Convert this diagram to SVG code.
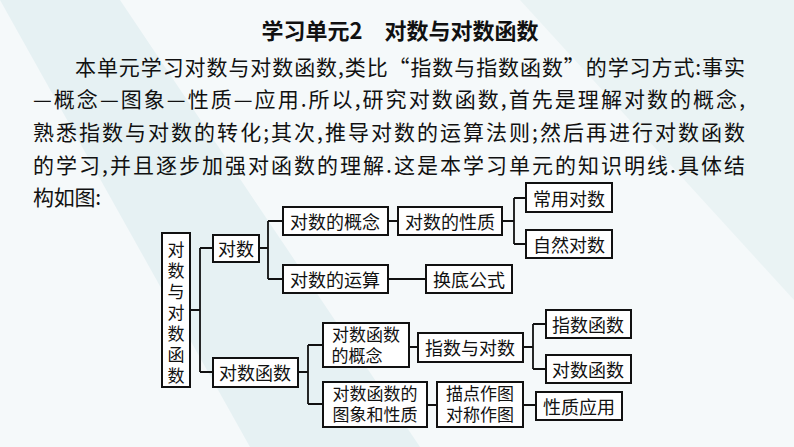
<svg xmlns="http://www.w3.org/2000/svg" width="794" height="447" viewBox="0 0 794 447">
<style>
text{font-family:"Noto Sans CJK SC","Liberation Serif",serif;fill:#111}
.p{font-size:21px}
.n{font-size:18px;text-anchor:middle;dominant-baseline:central}
.t{font-size:17px;text-anchor:middle}
.v{font-size:17px;text-anchor:middle}
rect{fill:#fff;stroke:#111;stroke-width:2}
.c{fill:none;stroke:#111;stroke-width:1.8}
</style>
<rect x="0" y="0" width="794" height="447" style="fill:#f5f9fa;stroke:none"/>
<polygon points="0,0 120,0 420,447 250,447" style="fill:#e6f1f3;stroke:none"/>
<polygon points="520,0 794,0 794,300" style="fill:#eaf3f4;stroke:none"/>
<text x="400" y="39" font-size="22" font-weight="bold" text-anchor="middle">学习单元2　对数与对数函数</text>
<text class="p" x="75" y="75" textLength="670" lengthAdjust="spacing">本单元学习对数与对数函数,类比“指数与指数函数”的学习方式:事实</text>
<text class="p" x="33" y="107" textLength="712" lengthAdjust="spacing">—概念—图象—性质—应用.所以,研究对数函数,首先是理解对数的概念,</text>
<text class="p" x="33" y="140" textLength="712" lengthAdjust="spacing">熟悉指数与对数的转化;其次,推导对数的运算法则;然后再进行对数函数</text>
<text class="p" x="33" y="173" textLength="712" lengthAdjust="spacing">的学习,并且逐步加强对函数的理解.这是本学习单元的知识明线.具体结</text>
<text class="p" x="33" y="205" textLength="68" lengthAdjust="spacing">构如图:</text>
<g id="connectors">
<path class="c" d="M190,310H200M200,248V372M200,248H213M200,372H213"/>
<path class="c" d="M259,248H268M268,221V279M268,221H283M268,279H283"/>
<path class="c" d="M388,221H398M502,221H514M514,198V244M514,198H526M514,244H526"/>
<path class="c" d="M388,279H426"/>
<path class="c" d="M298,372H308M308,345V404M308,345H323M308,404H323"/>
<path class="c" d="M409,347H418M523,347H533M533,324V369M533,324H546M533,369H546"/>
<path class="c" d="M427,405H437M523,405H536"/>
</g>
<g id="root"><rect x="162" y="233" width="28" height="154"/>
<text class="v" x="176" y="256">对</text><text class="v" x="176" y="277">数</text><text class="v" x="176" y="298">与</text><text class="v" x="176" y="319">对</text><text class="v" x="176" y="340">数</text><text class="v" x="176" y="361">函</text><text class="v" x="176" y="382">数</text></g>
<g id="n1"><rect x="213" y="235" width="46" height="27"/><text class="n" x="236" y="248">对数</text></g>
<g id="n2"><rect x="283" y="207" width="105" height="28"/><text class="n" x="335" y="221">对数的概念</text></g>
<g id="n3"><rect x="398" y="207" width="104" height="28"/><text class="n" x="450" y="221">对数的性质</text></g>
<g id="n4"><rect x="526" y="183" width="86" height="29"/><text class="n" x="569" y="198">常用对数</text></g>
<g id="n5"><rect x="526" y="230" width="86" height="28"/><text class="n" x="569" y="244">自然对数</text></g>
<g id="n6"><rect x="283" y="265" width="105" height="28"/><text class="n" x="335" y="279">对数的运算</text></g>
<g id="n7"><rect x="426" y="265" width="86" height="28"/><text class="n" x="469" y="279">换底公式</text></g>
<g id="n8"><rect x="213" y="358" width="85" height="29"/><text class="n" x="255" y="372">对数函数</text></g>
<g id="n9"><rect x="323" y="323" width="86" height="44"/><text class="t" x="366" y="341">对数函数</text><text class="t" x="357" y="362">的概念</text></g>
<g id="n10"><rect x="418" y="333" width="105" height="29"/><text class="n" x="470" y="347">指数与对数</text></g>
<g id="n11"><rect x="546" y="310" width="85" height="28"/><text class="n" x="588" y="324">指数函数</text></g>
<g id="n12"><rect x="546" y="355" width="85" height="28"/><text class="n" x="588" y="369">对数函数</text></g>
<g id="n13"><rect x="323" y="382" width="104" height="45"/><text class="t" x="375" y="400">对数函数的</text><text class="t" x="375" y="421">图象和性质</text></g>
<g id="n14"><rect x="437" y="382" width="86" height="45"/><text class="t" x="480" y="400">描点作图</text><text class="t" x="480" y="421">对称作图</text></g>
<g id="n15"><rect x="536" y="392" width="86" height="28"/><text class="n" x="579" y="406">性质应用</text></g>
</svg>
